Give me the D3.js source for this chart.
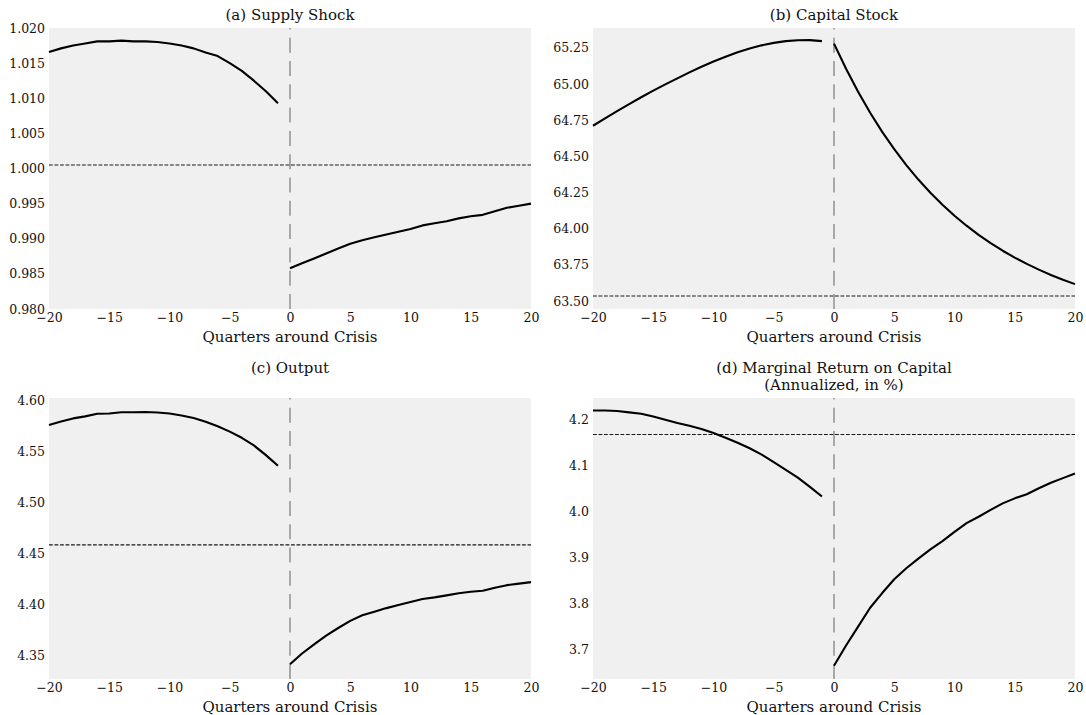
<!DOCTYPE html>
<html>
<head>
<meta charset="utf-8">
<script src="https://cdn.jsdelivr.net/npm/d3@7"></script>
<style>
  body { margin: 0; background: #fff; }
  svg { display: block; }
</style>
</head>
<body>
<svg id="chart" width="1086" height="715"></svg>
<script>
// Quarters before and after the crisis date (t = 0)
const quartersPre  = [-20,-19,-18,-17,-16,-15,-14,-13,-12,-11,-10,-9,-8,-7,-6,-5,-4,-3,-2,-1];
const quartersPost = [0,1,2,3,4,5,6,7,8,9,10,11,12,13,14,15,16,17,18,19,20];
const xTicks = [-20,-15,-10,-5,0,5,10,15,20];

// (a) Supply shock
const supplyPre  = [1.0166,1.0171,1.0175,1.0178,1.0181,1.0181,1.0182,1.0181,1.0181,1.0180,
                    1.0178,1.0175,1.0171,1.0165,1.0160,1.0150,1.0139,1.0125,1.0110,1.0093];
const supplyPost = [0.9858,0.9865,0.9872,0.9879,0.9886,0.9893,0.9898,0.9902,0.9906,0.9910,
                    0.9914,0.9919,0.9922,0.9925,0.9929,0.9932,0.9934,0.9939,0.9944,0.9947,0.9950];
const supplySteady = 1.0005;
const supplyTicks = [0.980,0.985,0.990,0.995,1.000,1.005,1.010,1.015,1.020];

// (b) Capital stock
const capitalPre  = [64.712,64.763,64.813,64.862,64.909,64.955,64.998,65.040,65.081,65.120,
                     65.156,65.189,65.220,65.246,65.268,65.285,65.297,65.303,65.304,65.297];
const capitalPost = [65.280,65.106,64.947,64.802,64.670,64.550,64.440,64.340,64.249,64.166,
                     64.090,64.021,63.958,63.901,63.848,63.800,63.757,63.717,63.680,63.647,63.617];
const capitalSteady = 63.535;
const capitalTicks = [63.50,63.75,64.00,64.25,64.50,64.75,65.00,65.25];

// (c) Output
const outputPre  = [4.5755,4.5790,4.5820,4.5840,4.5865,4.5868,4.5880,4.5880,4.5883,4.5878,
                    4.5868,4.5848,4.5823,4.5788,4.5743,4.5690,4.5630,4.5555,4.5460,4.5355];
const outputPost = [4.3410,4.3515,4.3605,4.3690,4.3765,4.3835,4.3890,4.3925,4.3960,4.3990,
                    4.4020,4.4050,4.4065,4.4085,4.4105,4.4120,4.4130,4.4160,4.4185,4.4200,4.4215];
const outputSteady = 4.458;
const outputTicks = [4.35,4.40,4.45,4.50,4.55,4.60];

// (d) Marginal return on capital, annualized %
const mpkPre  = [4.219,4.219,4.218,4.215,4.212,4.206,4.199,4.192,4.186,4.179,
                 4.170,4.160,4.149,4.137,4.123,4.107,4.090,4.073,4.053,4.032];
const mpkPost = [3.664,3.708,3.749,3.790,3.822,3.852,3.876,3.897,3.917,3.935,
                 3.955,3.974,3.988,4.003,4.017,4.028,4.037,4.050,4.062,4.072,4.082];
const mpkSteady = 4.167;
const mpkTicks = [3.7,3.8,3.9,4.0,4.1,4.2];

const panels = [
  { title: ["(a) Supply Shock"], left: 49, top: 28, pre: supplyPre, post: supplyPost,
    steady: supplySteady, ticks: supplyTicks, fmt: ".3f", domain: [0.980, 1.020] },
  { title: ["(b) Capital Stock"], left: 593, top: 28, pre: capitalPre, post: capitalPost,
    steady: capitalSteady, ticks: capitalTicks, fmt: ".2f", domain: [63.445, 65.388] },
  { title: ["(c) Output", ""], left: 49, top: 398, pre: outputPre, post: outputPost,
    steady: outputSteady, ticks: outputTicks, fmt: ".2f", domain: [4.3265, 4.602] },
  { title: ["(d) Marginal Return on Capital", "(Annualized, in %)"], left: 593, top: 398,
    pre: mpkPre, post: mpkPost, steady: mpkSteady, ticks: mpkTicks, fmt: ".1f", domain: [3.635, 4.2463] }
];

const W = 482, H = 281;
const FONT = "'DejaVu Serif', 'Liberation Serif', serif";
const TEXT_COLOR = "#111";
const svg = d3.select("#chart");

panels.forEach(p => {
  const g = svg.append("g").attr("transform", `translate(${p.left},${p.top})`);
  const x = d3.scaleLinear().domain([-20, 20]).range([0, W]);
  const y = d3.scaleLinear().domain(p.domain).range([H, 0]);

  g.append("rect").attr("width", W).attr("height", H).attr("fill", "#f0f0f0");

  // crisis date marker
  g.append("line")
    .attr("x1", x(0)).attr("x2", x(0)).attr("y1", H).attr("y2", 0)
    .attr("stroke", "#a8a8a8").attr("stroke-width", 2)
    .attr("stroke-dasharray", "15,8.3");

  // steady-state level
  g.append("line")
    .attr("x1", 0).attr("x2", W).attr("y1", y(p.steady)).attr("y2", y(p.steady))
    .attr("stroke", "#1a1a1a").attr("stroke-width", 1.1)
    .attr("stroke-dasharray", "3.8,1.7");

  const line = d3.line().x(d => x(d[0])).y(d => y(d[1]));
  [[quartersPre, p.pre], [quartersPost, p.post]].forEach(([qs, vals]) => {
    g.append("path")
      .datum(qs.map((q, i) => [q, vals[i]]))
      .attr("d", line)
      .attr("fill", "none").attr("stroke", "#000").attr("stroke-width", 2.1)
      .attr("stroke-linejoin", "round");
  });

  // axes without tick marks or spines
  const yAxis = g.append("g")
    .call(d3.axisLeft(y).tickValues(p.ticks).tickFormat(d3.format(p.fmt)).tickSize(0).tickPadding(4));
  yAxis.attr("font-family", FONT).attr("font-size", 12.5);
  yAxis.select(".domain").remove();
  yAxis.selectAll("text").attr("fill", TEXT_COLOR);

  const xAxis = g.append("g").attr("transform", `translate(0,${H})`)
    .call(d3.axisBottom(x).tickValues(xTicks).tickFormat(d3.format("d")).tickSize(0).tickPadding(4));
  xAxis.attr("font-family", FONT).attr("font-size", 12.5);
  xAxis.select(".domain").remove();
  xAxis.selectAll("text").attr("fill", TEXT_COLOR);

  g.append("text")
    .attr("x", W / 2).attr("y", H + 33)
    .attr("text-anchor", "middle")
    .attr("font-family", FONT).attr("font-size", 15).attr("fill", TEXT_COLOR)
    .text("Quarters around Crisis");

  const nLines = p.title.length;
  p.title.forEach((t, i) => {
    g.append("text")
      .attr("x", W / 2).attr("y", -8 - (nLines - 1 - i) * 17)
      .attr("text-anchor", "middle")
      .attr("font-family", FONT).attr("font-size", 15).attr("fill", TEXT_COLOR)
      .text(t);
  });
});
</script>
</body>
</html>
